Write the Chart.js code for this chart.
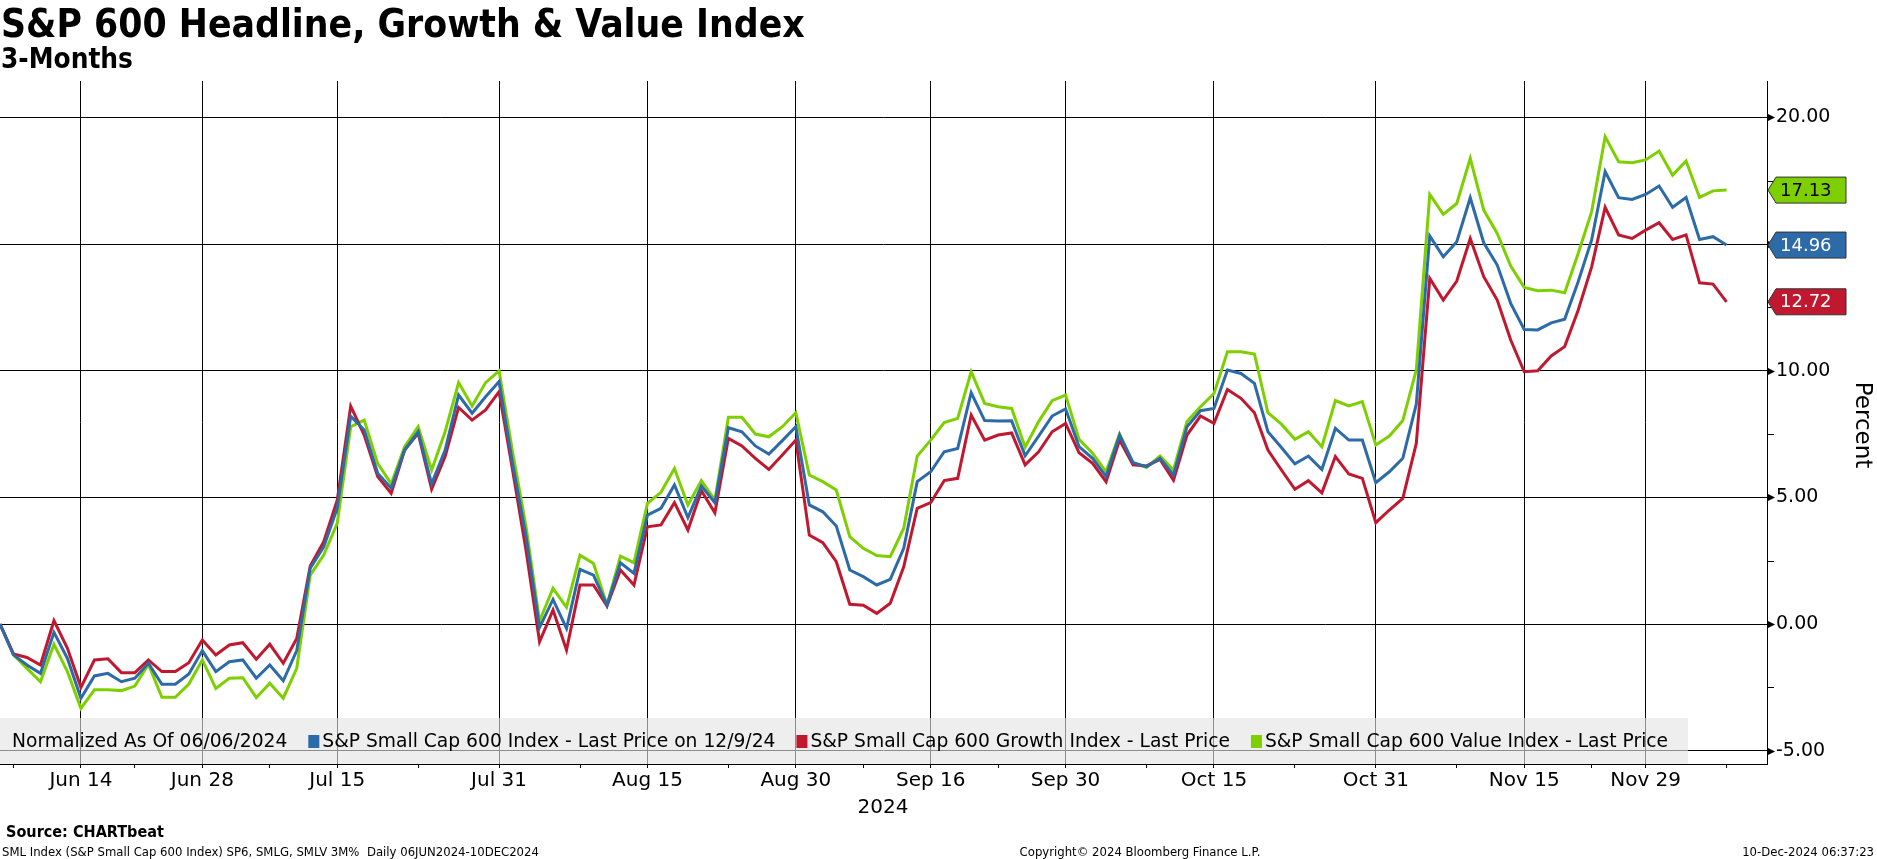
<!DOCTYPE html>
<html>
<head>
<meta charset="utf-8">
<script src="https://cdn.jsdelivr.net/npm/chart.js@4.4.1/dist/chart.umd.min.js"></script>
<style>
  html, body { margin: 0; padding: 0; background: #fff; }
  #wrap { position: relative; width: 1877px; height: 859px; }
</style>
</head>
<body>
<div id="wrap"><canvas id="grafico"></canvas></div>
<script>
// Datos: % de cambio normalizado al 06/06/2024, una entrada por día hábil (129 días)
const titulo = 'S&P 600 Headline, Growth & Value Index';
const subtitulo = '3-Months';

const indiceTotal = [
  0, -1.22, -1.62, -1.95, -0.33, -1.36, -2.93, -2.05, -1.95, -2.28,
  -2.14, -1.55, -2.38, -2.38, -1.97, -1.05, -1.88, -1.49, -1.42, -2.14,
  -1.62, -2.24, -1.05, 2.2, 3.05, 4.57, 8.2, 7.66, 5.95, 5.36,
  6.87, 7.59, 5.53, 6.87, 9.04, 8.32, 8.97, 9.57, 6.34, 3.45,
  -0.14, 0.97, -0.17, 2.16, 1.93, 0.75, 2.42, 2.0, 4.3, 4.57,
  5.49, 4.2, 5.45, 4.79, 7.75, 7.59, 7.03, 6.71, 7.24, 7.79,
  4.7, 4.43, 3.87, 2.13, 1.87, 1.54, 1.76, 2.99, 5.62, 6.01,
  6.8, 6.93, 9.13, 8.03, 8.01, 8.02, 6.64, 7.42, 8.21, 8.49,
  7.0, 6.54, 5.82, 7.46, 6.37, 6.21, 6.54, 5.88, 7.79, 8.42,
  8.51, 10.03, 9.89, 9.5, 7.59, 6.97, 6.32, 6.63, 6.1, 7.72,
  7.26, 7.26, 5.58, 6.01, 6.54, 8.68, 15.32, 14.5, 15.09, 16.83,
  15.05, 14.17, 12.66, 11.63, 11.61, 11.89, 12.03, 13.51, 15.16, 17.86,
  16.83, 16.76, 16.96, 17.29, 16.45, 16.84, 15.18, 15.29, 14.96
];
const indiceGrowth = [
  0, -1.18, -1.32, -1.62, 0.13, -0.96, -2.5, -1.42, -1.37, -1.92,
  -1.92, -1.42, -1.88, -1.88, -1.53, -0.63, -1.22, -0.83, -0.74, -1.39,
  -0.8, -1.55, -0.57, 2.29, 3.25, 4.89, 8.6, 7.46, 5.82, 5.16,
  6.87, 7.53, 5.32, 6.61, 8.55, 8.05, 8.45, 9.17, 6.08, 2.9,
  -0.7, 0.55, -1.03, 1.54, 1.54, 0.71, 2.13, 1.54, 3.84, 3.91,
  4.79, 3.71, 5.26, 4.39, 7.33, 7.03, 6.54, 6.1, 6.67, 7.26,
  3.51, 3.21, 2.46, 0.78, 0.74, 0.42, 0.82, 2.26, 4.57, 4.79,
  5.66, 5.75, 8.25, 7.26, 7.46, 7.54, 6.28, 6.8, 7.59, 7.92,
  6.76, 6.34, 5.62, 7.26, 6.28, 6.24, 6.5, 5.68, 7.46, 8.21,
  7.92, 9.26, 8.91, 8.34, 6.87, 6.08, 5.32, 5.66, 5.18, 6.61,
  5.92, 5.75, 4.0, 4.5, 4.96, 7.13, 13.64, 12.79, 13.54, 15.22,
  13.71, 12.79, 11.21, 9.96, 10.0, 10.58, 10.95, 12.39, 14.1, 16.45,
  15.36, 15.22, 15.55, 15.84, 15.18, 15.36, 13.47, 13.42, 12.72
];
const indiceValue = [
  0, -1.22, -1.75, -2.28, -0.8, -1.88, -3.33, -2.6, -2.6, -2.63,
  -2.45, -1.59, -2.89, -2.89, -2.37, -1.42, -2.54, -2.14, -2.12, -2.91,
  -2.34, -2.93, -1.75, 1.93, 2.72, 3.97, 7.79, 8.05, 6.34, 5.53,
  7.0, 7.79, 6.08, 7.59, 9.53, 8.61, 9.53, 9.99, 6.8, 3.84,
  0.12, 1.41, 0.66, 2.72, 2.39, 0.75, 2.68, 2.42, 4.76, 5.2,
  6.14, 4.7, 5.66, 4.89, 8.16, 8.16, 7.5, 7.39, 7.79, 8.34,
  5.88, 5.62, 5.29, 3.45, 2.99, 2.7, 2.66, 3.78, 6.63, 7.26,
  7.95, 8.12, 9.96, 8.71, 8.58, 8.51, 6.98, 7.99, 8.82, 9.04,
  7.29, 6.74, 6.01, 7.5, 6.37, 6.18, 6.63, 6.08, 7.99, 8.58,
  9.1, 10.75, 10.75, 10.66, 8.34, 7.89, 7.29, 7.59, 7.0, 8.82,
  8.61, 8.78, 7.07, 7.42, 8.03, 10.03, 16.96, 16.17, 16.6, 18.38,
  16.34, 15.42, 14.13, 13.29, 13.16, 13.18, 13.08, 14.63, 16.28, 19.24,
  18.25, 18.21, 18.32, 18.67, 17.72, 18.28, 16.84, 17.1, 17.13
];

// Etiquetas del eje X (posición = número de día hábil desde el 06/06/2024)
const etiquetasX = ['Jun 14', 'Jun 28', 'Jul 15', 'Jul 31', 'Aug 15', 'Aug 30', 'Sep 16', 'Sep 30', 'Oct 15', 'Oct 31', 'Nov 15', 'Nov 29'];
const posicionesX = [6, 15, 25, 37, 48, 59, 69, 79, 90, 102, 113, 122];
const marcasMenoresX = [1, 10, 20, 31, 43, 54, 64, 74, 85, 96, 108, 118, 128];
const ticksY = [-5, 0, 5, 10, 15, 20];
const ticksMenoresY = [-2.5, 2.5, 7.5, 12.5, 17.5];

const nombres = [
  'S&P Small Cap 600 Index - Last Price on 12/9/24',
  'S&P Small Cap 600 Growth Index - Last Price',
  'S&P Small Cap 600 Value Index - Last Price'
];
const colores = ['#2c6ba8', '#c0182f', '#7dcf00'];
const coloresTextoBandera = ['#fff', '#fff', '#000'];
const series = [indiceTotal, indiceGrowth, indiceValue];

const FUENTE = '"DejaVu Sans", Verdana, sans-serif';
const FUENTE_TITULO = '"DejaVu Sans Condensed", "DejaVu Sans", Verdana, sans-serif';

function tamanoAjustado(ctx, texto, peso, familia, ancho) {
  ctx.font = `${peso} 100px ${familia}`;
  return 100 * ancho / ctx.measureText(texto).width;
}

// Títulos, pie y textos sueltos
const textosPlugin = {
  id: 'textos',
  afterDraw(chart) {
    const ctx = chart.ctx;
    ctx.save();
    ctx.fillStyle = '#000';
    ctx.textAlign = 'left';
    ctx.textBaseline = 'alphabetic';
    let t = tamanoAjustado(ctx, titulo, 'bold', FUENTE_TITULO, 804);
    ctx.font = `bold ${t}px ${FUENTE_TITULO}`;
    ctx.fillText(titulo, 1, 37);
    t = tamanoAjustado(ctx, subtitulo, 'bold', FUENTE_TITULO, 132);
    ctx.font = `bold ${t}px ${FUENTE_TITULO}`;
    ctx.fillText(subtitulo, 1, 68);

    t = tamanoAjustado(ctx, 'Source: CHARTbeat', 'bold', FUENTE_TITULO, 158);
    ctx.font = `bold ${t}px ${FUENTE_TITULO}`;
    ctx.fillText('Source: CHARTbeat', 6, 837);
    ctx.font = `11.7px ${FUENTE}`;
    ctx.fillText('SML Index (S&P Small Cap 600 Index) SP6, SMLG, SMLV 3M%  Daily 06JUN2024-10DEC2024', 2, 856);
    ctx.textAlign = 'center';
    ctx.fillText('Copyright© 2024 Bloomberg Finance L.P.', 1140, 856);
    ctx.textAlign = 'right';
    ctx.fillText('10-Dec-2024 06:37:23', 1874, 856);

    ctx.textAlign = 'center';
    ctx.font = `20px ${FUENTE}`;
    ctx.fillText('2024', 883, 813);

    ctx.translate(1862, 425);
    ctx.rotate(Math.PI / 2);
    ctx.textBaseline = 'middle';
    ctx.font = `23px ${FUENTE}`;
    ctx.fillText('Percent', 0, 0);
    ctx.restore();
  }
};

// Leyenda con fondo gris semitransparente
const leyendaPlugin = {
  id: 'leyenda',
  afterDatasetsDraw(chart) {
    const ctx = chart.ctx;
    const area = chart.chartArea;
    ctx.save();
    ctx.fillStyle = 'rgba(228,228,228,0.62)';
    ctx.fillRect(0, 718, 1688, area.bottom - 718);
    ctx.font = `18.7px ${FUENTE}`;
    ctx.textBaseline = 'middle';
    ctx.fillStyle = '#000';
    const yc = 742;
    let x = 12;
    const prefijo = 'Normalized As Of 06/06/2024';
    ctx.fillText(prefijo, x, yc);
    x += ctx.measureText(prefijo).width;
    nombres.forEach((n, k) => {
      x += 21;
      ctx.fillStyle = colores[k];
      ctx.fillRect(x, 735, 11, 13);
      x += 14;
      ctx.fillStyle = '#000';
      ctx.fillText(n, x, yc);
      x += ctx.measureText(n).width;
    });
    ctx.restore();
  }
};

// Flechas y marcas del eje derecho + banderas con el último valor
const ejePlugin = {
  id: 'eje',
  afterDraw(chart) {
    const ctx = chart.ctx;
    const area = chart.chartArea;
    const ys = chart.scales.y;
    const xr = area.right;
    ctx.save();
    ctx.fillStyle = '#000';
    ctx.strokeStyle = '#000';
    ctx.lineWidth = 1;
    ticksY.forEach(v => {
      const y = Math.round(ys.getPixelForValue(v));
      ctx.beginPath();
      ctx.moveTo(xr + 8, y + 0.5);
      ctx.lineTo(xr + 1, y - 3);
      ctx.lineTo(xr + 1, y + 4);
      ctx.closePath();
      ctx.fill();
    });
    ticksMenoresY.forEach(v => {
      const y = Math.round(ys.getPixelForValue(v)) + 0.5;
      ctx.beginPath();
      ctx.moveTo(xr, y);
      ctx.lineTo(xr + 7, y);
      ctx.stroke();
    });

    ctx.font = `18px ${FUENTE}`;
    ctx.textBaseline = 'middle';
    ctx.textAlign = 'left';
    series.forEach((s, k) => {
      const ultimo = s[s.length - 1];
      const y = ys.getPixelForValue(ultimo);
      const xt = xr + 1, xl = xr + 9, xd = xr + 79, h = 13;
      ctx.beginPath();
      ctx.moveTo(xt, y);
      ctx.lineTo(xl, y - h);
      ctx.lineTo(xd, y - h);
      ctx.lineTo(xd, y + h);
      ctx.lineTo(xl, y + h);
      ctx.closePath();
      ctx.fillStyle = colores[k];
      ctx.fill();
      ctx.strokeStyle = '#333';
      ctx.stroke();
      ctx.fillStyle = coloresTextoBandera[k];
      ctx.fillText(ultimo.toFixed(2), xr + 13, y + 1);
    });
    ctx.restore();
  }
};

const ctx = document.getElementById('grafico').getContext('2d');
const myChart = new Chart(ctx, {
  type: 'line',
  data: {
    datasets: series.map((s, k) => ({
      label: nombres[k],
      data: s.map((v, i) => ({ x: i, y: v })),
      borderColor: colores[k],
      borderWidth: 3,
      pointRadius: 0,
      tension: 0,
      fill: false
    }))
  },
  options: {
    responsive: true,
    maintainAspectRatio: false,
    animation: false,
    layout: { padding: { top: 81, left: 0, right: 0, bottom: 0 } },
    plugins: {
      legend: { display: false },
      title: { display: false },
      tooltip: { enabled: false }
    },
    scales: {
      x: {
        type: 'linear',
        min: 0,
        max: 131,
        afterBuildTicks: s => {
          s.ticks = posicionesX.concat(marcasMenoresX).sort((a, b) => a - b).map(v => ({ value: v }));
        },
        afterFit: s => { s.height = 95; },
        grid: {
          color: c => (c.tick && posicionesX.includes(c.tick.value)) ? '#000' : 'rgba(0,0,0,0)',
          tickColor: '#000',
          tickLength: 4,
          lineWidth: 1
        },
        border: { display: true, color: '#000', width: 1 },
        ticks: {
          autoSkip: false,
          maxRotation: 0,
          padding: 1,
          color: '#000',
          font: { family: FUENTE, size: 20 },
          callback: v => {
            const k = posicionesX.indexOf(v);
            return k >= 0 ? etiquetasX[k] : '';
          }
        }
      },
      y: {
        position: 'right',
        min: -5.527,
        max: 21.437,
        afterBuildTicks: s => { s.ticks = ticksY.map(v => ({ value: v })); },
        afterFit: s => { s.width = 110; },
        grid: { color: '#000', lineWidth: 1, tickLength: 8, tickColor: 'rgba(0,0,0,0)' },
        border: { display: true, color: '#000', width: 1 },
        ticks: {
          padding: 1,
          color: '#000',
          font: { family: FUENTE, size: 19 },
          callback: v => v === 15 ? '' : v.toFixed(2)
        }
      }
    }
  },
  plugins: [leyendaPlugin, ejePlugin, textosPlugin]
});
</script>
</body>
</html>
